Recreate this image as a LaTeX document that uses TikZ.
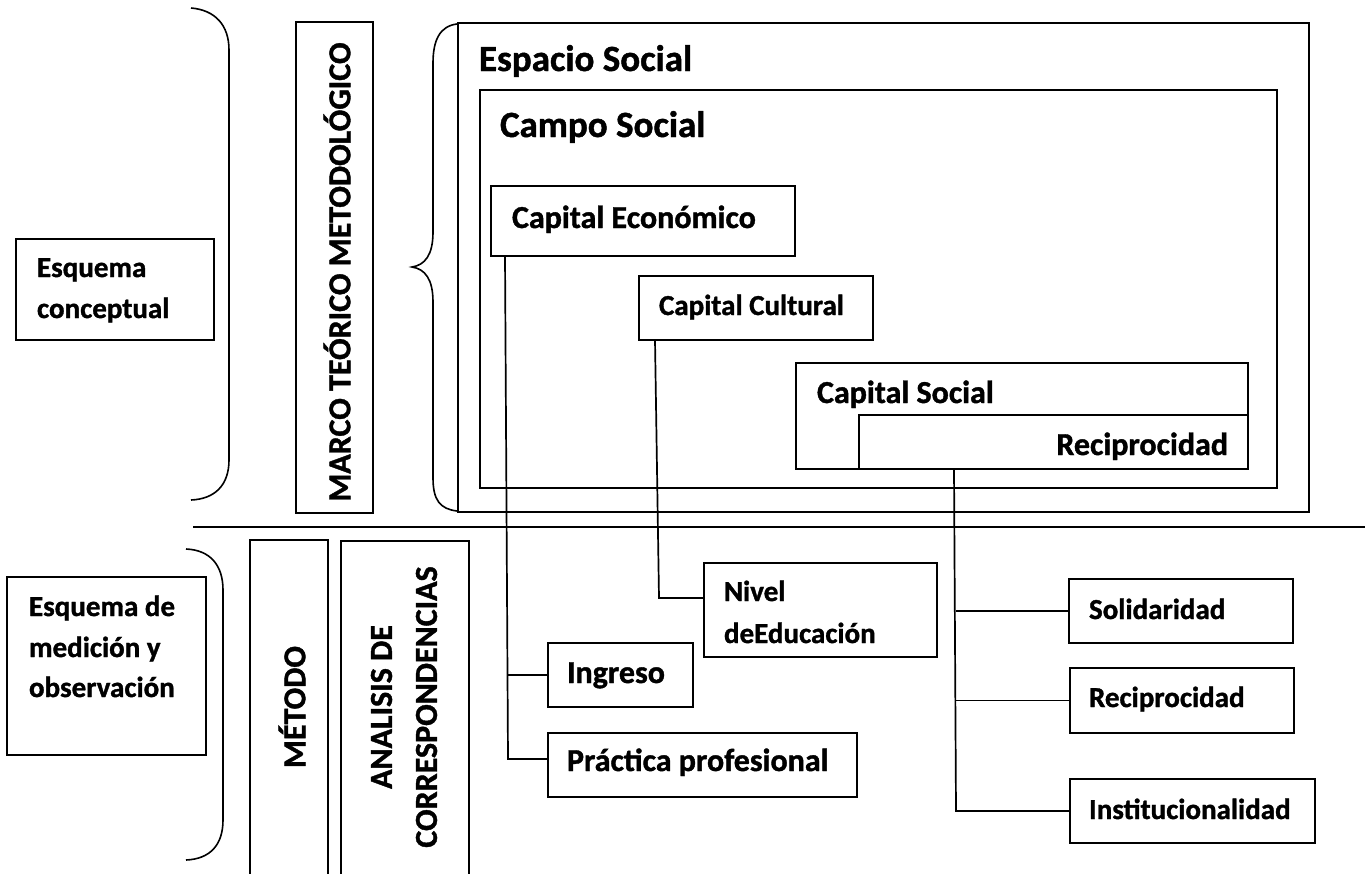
\documentclass[tikz,border=0pt]{standalone}
\usepackage{fontspec}
\setmainfont{Carlito}[BoldFeatures={FakeBold=1.2}]
\usetikzlibrary{calc}
\tikzset{
  box/.style={draw, line width=2.1pt, rectangle, inner sep=0pt, outer sep=0pt, anchor=north west},
  conn/.style={line width=1.7pt},
  brk/.style={line width=1.6pt},
  txt/.style={inner sep=0pt, outer sep=0pt, anchor=base west, font=\bfseries\fontsize{29}{35}\selectfont},
  txtL/.style={txt, font=\bfseries\fontsize{32}{38}\selectfont},
  txtXL/.style={txt, font=\bfseries\fontsize{37}{44}\selectfont},
}
\begin{document}
\begin{tikzpicture}[x=1pt,y=-1pt]
\useasboundingbox (0,0) rectangle (1365,873);
\clip (0,0) rectangle (1365,873);

% upper section boxes
\node[box, minimum width=851pt, minimum height=489pt] (esp) at (458,23) {};
\node[box, minimum width=797pt, minimum height=398pt] (campo) at (480,90) {};
\node[box, minimum width=304pt, minimum height=70pt] (ce) at (491,186) {};
\node[box, minimum width=234pt, minimum height=64pt] (cc) at (639,276) {};
\node[box, minimum width=452pt, minimum height=106pt] (cs) at (796,363) {};
\node[box, minimum width=389pt, minimum height=54pt] (rec1) at (859,415) {};
\node[box, minimum width=198pt, minimum height=101pt] (econc) at (16,239) {};
\node[box, minimum width=77pt, minimum height=491pt] (marco) at (296,22) {};

\node[txtXL] (tesp) at (479,71) {Espacio Social};
\node[txtXL] (tcampo) at (500,137) {Campo Social};
\node[txtL] (tce) at (512,228) {Capital Económico};
\node[txt] (tcc) at (659,315) {Capital Cultural};
\node[txtL] (tcs) at (817,403) {Capital Social};
\node[txtL, anchor=base east] (trec1) at (1228,455) {Reciprocidad};
\node[txt] (tec1) at (37,277) {Esquema};
\node[txt] (tec2) at (37,318) {conceptual};
\node[txtL, anchor=center, rotate=90] (tmarco) at (337,272) {MARCO TEÓRICO METODOLÓGICO};

% braces
\draw[brk] (191,8) .. controls (215,10) and (229,25) .. (229,50) -- (229,460)
  .. controls (229,485) and (215,499) .. (191,500);
\draw[brk] (457,24) .. controls (440,26) and (433,40) .. (433,63) -- (433,232)
  .. controls (433,255) and (425,265) .. (412,267)
  .. controls (425,269) and (433,279) .. (433,302) -- (433,478)
  .. controls (433,500) and (440,509) .. (457,511);
\draw[brk] (186,549) .. controls (210,550) and (223,565) .. (223,590) -- (223,820)
  .. controls (223,845) and (210,859) .. (186,860);

% separator
\coordinate (sepL) at (193,527);
\coordinate (sepR) at (1365,527);
\draw[line width=2pt] (sepL) -- (sepR);

% lower section boxes
\node[box, minimum width=199pt, minimum height=178pt] (emed) at (7,577) {};
\node[box, minimum width=78pt, minimum height=360pt] (met) at (250,540) {};
\node[box, minimum width=128pt, minimum height=360pt] (ana) at (341,541) {};
\node[box, minimum width=145pt, minimum height=64pt] (ing) at (548,643) {};
\node[box, minimum width=309pt, minimum height=64pt] (prac) at (548,733) {};
\node[box, minimum width=233pt, minimum height=94pt] (niv) at (704,563) {};
\node[box, minimum width=224pt, minimum height=64pt] (sol) at (1069,579) {};
\node[box, minimum width=224pt, minimum height=65pt] (rec2) at (1070,668) {};
\node[box, minimum width=245pt, minimum height=64pt] (inst) at (1070,779) {};

\node[txt] (tem1) at (29,616) {Esquema de};
\node[txt] (tem2) at (29,657) {medición y};
\node[txt] (tem3) at (29,697) {observación};
\node[txtL, anchor=center, rotate=90] (tmet) at (292,707) {MÉTODO};
\node[txtL, anchor=center, rotate=90, align=center, font=\bfseries\fontsize{32}{45}\selectfont] (tana) at (404,707) {ANALISIS DE\\CORRESPONDENCIAS};
\node[txtL] (ting) at (567,683) {Ingreso};
\node[txtL] (tprac) at (567,771) {Práctica profesional};
\node[txt] (tniv1) at (724,601) {Nivel};
\node[txt] (tniv2) at (724,643) {deEducación};
\node[txt] (tsol) at (1089,619) {Solidaridad};
\node[txt] (trec2) at (1089,707) {Reciprocidad};
\node[txt] (tinst) at (1089,819) {Institucionalidad};

% connectors
\coordinate (t1) at (508,759);
\draw[conn] ($(ce.south west)+(14,0)$) -- (t1) -- (t1 -| prac.west);
\draw[conn] (ing.west) -- ($(ing.west)+(-40,0)$);
\coordinate (t2) at (659,598);
\draw[conn] ($(cc.south west)+(16,0)$) -- (t2) -- (t2 -| niv.west);
\coordinate (t3) at (956,811);
\draw[conn] ($(rec1.south west)+(95,0)$) -- (t3) -- (inst.west);
\draw[conn] (sol.west) -- (sol.west -| t3);
\draw[conn] (rec2.west) -- (rec2.west -| t3);
\end{tikzpicture}
\end{document}
